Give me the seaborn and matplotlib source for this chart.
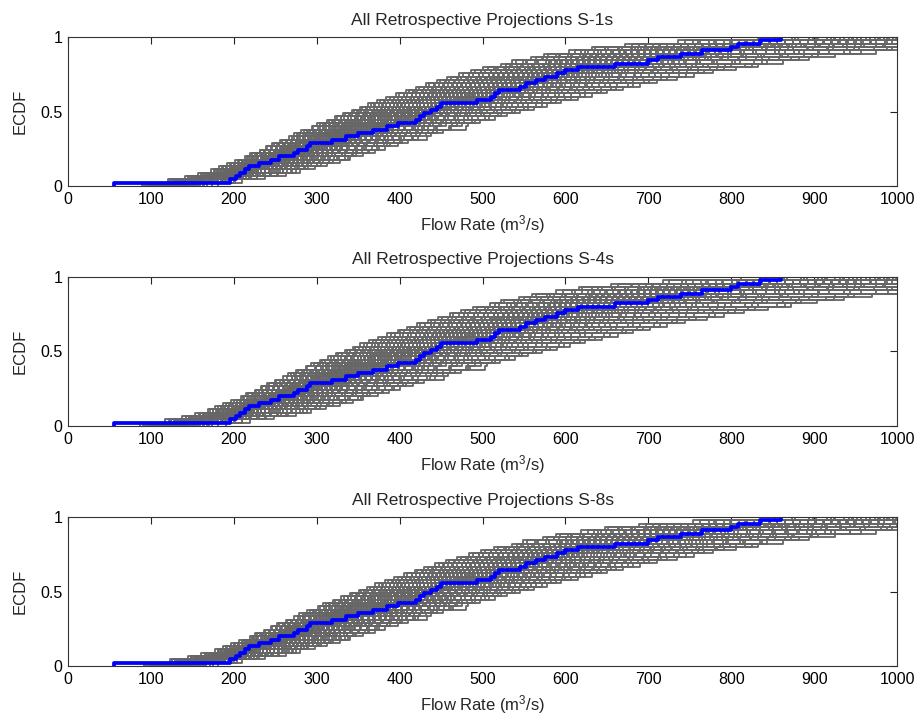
import numpy as np
import pandas as pd
import seaborn as sns
import matplotlib.pyplot as plt

# observed flows (blue ECDF), same in all three panels
observed = [55, 195, 203, 208, 214, 218, 230, 245, 255, 272, 278, 288, 292, 318, 335,
            350, 368, 385, 398, 420, 425, 430, 438, 445, 450, 493, 510, 515, 520, 545,
            552, 565, 575, 590, 600, 615, 660, 700, 712, 740, 765, 800, 808, 835, 860]

# typical projection samples (read from the middle of the grey band)
base_a = [130, 160, 182, 203, 220, 232, 244, 256, 267, 278, 289, 300, 311, 322, 333,
          345, 356, 368, 380, 393, 406, 418, 431, 444, 457, 471, 485, 499, 514, 529,
          545, 561, 578, 596, 614, 633, 653, 675, 698, 724, 755, 795, 850, 930, 1070]
base_b = [112, 150, 176, 210, 216, 238, 240, 262, 270, 285, 290, 306, 308, 328, 338,
          340, 362, 370, 375, 398, 402, 424, 428, 450, 452, 476, 480, 506, 510, 536,
          540, 568, 572, 604, 608, 645, 660, 690, 705, 740, 765, 810, 870, 950, 1040]
base_c = [145, 168, 190, 196, 224, 228, 250, 252, 272, 275, 296, 298, 318, 320, 346,
          350, 352, 384, 386, 390, 412, 415, 436, 440, 462, 466, 492, 494, 520, 524,
          552, 556, 588, 590, 622, 626, 666, 670, 715, 718, 780, 790, 840, 920, 1100]
bases = [base_a, base_b, base_c]

# spread of the retrospective projections relative to the typical samples
factors_s1 = [0.80, 0.82, 0.84, 0.86, 0.87, 0.88, 0.89, 0.90, 0.91, 0.92, 0.93, 0.94,
              0.95, 0.96, 0.97, 0.98, 0.99, 1.00, 1.01, 1.02, 1.04, 1.06, 1.08, 1.10,
              1.13, 1.16, 1.20, 1.25]
factors_s4 = [0.78, 0.81, 0.83, 0.85, 0.87, 0.88, 0.89, 0.90, 0.91, 0.92, 0.93, 0.94,
              0.95, 0.96, 0.97, 0.98, 0.99, 1.00, 1.02, 1.04, 1.06, 1.08, 1.10, 1.13,
              1.16, 1.20, 1.25, 1.31]
factors_s8 = [0.82, 0.84, 0.86, 0.88, 0.89, 0.90, 0.91, 0.92, 0.93, 0.94, 0.95, 0.96,
              0.97, 0.98, 0.99, 1.00, 1.01, 1.02, 1.03, 1.05, 1.07, 1.09, 1.11, 1.13,
              1.15, 1.18, 1.21, 1.25]

panel_titles = ['All Retrospective Projections S-1s',
                'All Retrospective Projections S-4s',
                'All Retrospective Projections S-8s']
panel_factors = [factors_s1, factors_s4, factors_s8]

x_ticks = list(range(0, 1001, 100))
y_ticks = [0, 0.5, 1]
y_ticklabels = ['0', '0.5', '1']


def ecdf_frame(values, trace):
    v = np.sort(np.asarray(values, dtype=float))
    n = len(v)
    x = np.concatenate([[v[0]], v])
    y = np.concatenate([[0.0], np.arange(1, n + 1) / n])
    return pd.DataFrame({'flow': x, 'ecdf': y, 'trace': trace})


sns.set_style('white')
plt.rcParams['font.family'] = ['Liberation Sans', 'DejaVu Sans']
plt.rcParams['mathtext.default'] = 'regular'

fig = plt.figure(figsize=(9.17, 7.23), dpi=100)
bottoms = [0.7427, 0.4108, 0.0788]

obs_df = ecdf_frame(observed, 0)

for i in range(3):
    ax = fig.add_axes([0.0742, bottoms[i], 0.904, 0.2061])
    frames = []
    for b, base in enumerate(bases):
        for j, f in enumerate(panel_factors[i]):
            frames.append(ecdf_frame(np.asarray(base) * f, b * 100 + j))
    grey = pd.concat(frames, ignore_index=True)
    sns.lineplot(data=grey, x='flow', y='ecdf', units='trace', estimator=None,
                 color='#666666', lw=1.3, drawstyle='steps-post', ax=ax)
    sns.lineplot(data=obs_df, x='flow', y='ecdf', estimator=None,
                 color='#0000ff', lw=2.7, drawstyle='steps-post', ax=ax)
    ax.set_xlim(0, 1000)
    ax.set_ylim(0, 1)
    ax.set_xticks(x_ticks)
    ax.set_yticks(y_ticks)
    ax.set_yticklabels(y_ticklabels)
    ax.tick_params(direction='in', top=True, right=True, length=5, width=0.8,
                   labelsize=11.5, pad=4, colors='#222222', labelcolor='black')
    for sp in ax.spines.values():
        sp.set_color('#333333')
        sp.set_linewidth(0.8)
    ax.set_title(panel_titles[i], fontsize=12.5, pad=9)
    ax.set_xlabel('Flow Rate (m$^3$/s)', fontsize=12, labelpad=5)
    ax.set_ylabel('ECDF', fontsize=12, labelpad=9)

fig.savefig('out.png', dpi=100)
